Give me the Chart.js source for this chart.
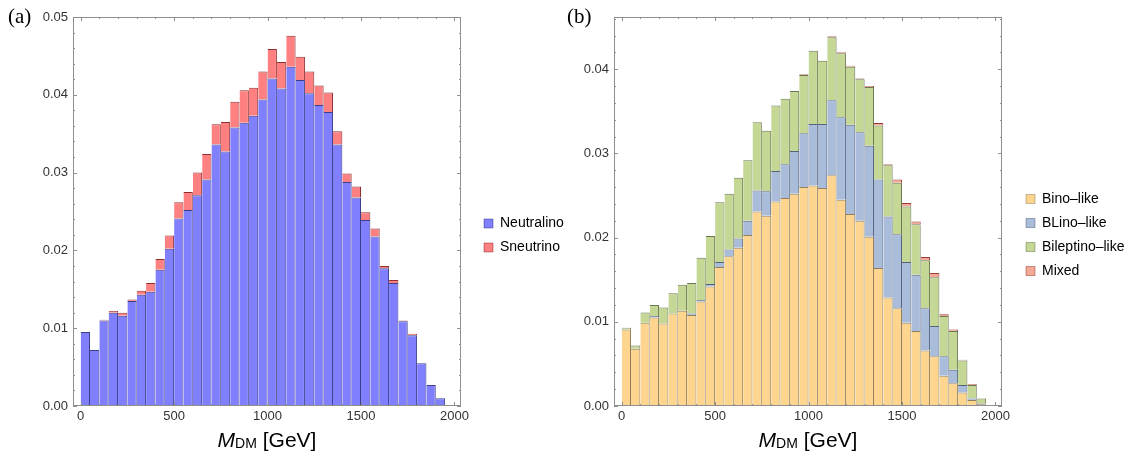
<!DOCTYPE html>
<html>
<head>
<meta charset="utf-8">
<script src="https://cdn.jsdelivr.net/npm/chart.js@4.4.0/dist/chart.umd.min.js"></script>
<style>
  body { margin: 0; background: #fff; }
  #wrap { position: relative; width: 1138px; height: 457px; overflow: hidden; }
  canvas { position: absolute; top: 0; }
  #ca { left: 0; }
  #cb { left: 540px; }
  .tag { position: absolute; top: 4px; font: 21px 'Liberation Serif', serif; color: #000; }
  .xt { position: absolute; top: 429px; width: 200px; text-align: center; color: #000;
        font: 21px 'Liberation Sans', Arial, sans-serif; line-height: 21px; white-space: nowrap; }
  .xt span { font-size: 14px; position: relative; top: 1px; }
</style>
</head>
<body>
<div id="wrap">
  <canvas id="ca" width="580" height="457"></canvas>
  <canvas id="cb" width="598" height="457"></canvas>
  <div class="tag" style="left:8px">(a)</div>
  <div class="tag" style="left:567px">(b)</div>
  <div class="xt" style="left:167px"><i>M</i><span>DM</span> [GeV]</div>
  <div class="xt" style="left:708px"><i>M</i><span>DM</span> [GeV]</div>
</div>
<script>
// bin centres, 50 GeV bins from 0 to 2000
const binCenters = [25, 75, 125, 175, 225, 275, 325, 375, 425, 475,
  525, 575, 625, 675, 725, 775, 825, 875, 925, 975,
  1025, 1075, 1125, 1175, 1225, 1275, 1325, 1375, 1425, 1475,
  1525, 1575, 1625, 1675, 1725, 1775, 1825, 1875, 1925, 1975];

const xTickValues = [0, 500, 1000, 1500, 2000];
const yTicksA = [0, 0.01, 0.02, 0.03, 0.04, 0.05];
const yTicksB = [0, 0.01, 0.02, 0.03, 0.04];

// panel (a)
const neutralino = [0.0095, 0.0072, 0.0110, 0.0120, 0.0116, 0.0135, 0.0143, 0.0147, 0.0175, 0.0202,
  0.0241, 0.0252, 0.0271, 0.0291, 0.0336, 0.0327, 0.0358, 0.0364, 0.0373, 0.0394,
  0.0421, 0.0408, 0.0436, 0.0419, 0.0402, 0.0387, 0.0378, 0.0336, 0.0288, 0.0268,
  0.0239, 0.0218, 0.0177, 0.0158, 0.0109, 0.0091, 0.0055, 0.0027, 0.0010];
const sneutrino = [0, 0, 0.0001, 0.0002, 0.0004, 0.0002, 0.0005, 0.0011, 0.0014, 0.0017,
  0.0021, 0.0023, 0.0029, 0.0033, 0.0026, 0.0038, 0.0033, 0.0042, 0.0036, 0.0036,
  0.0038, 0.0034, 0.0040, 0.0030, 0.0028, 0.0025, 0.0025, 0.0017, 0.0011, 0.0014,
  0.0010, 0.0010, 0.0003, 0.0004, 0.0001, 0.0002, 0, 0, 0];

// panel (b)
const binoLike = [0.0091, 0.0068, 0.0099, 0.0105, 0.0098, 0.0110, 0.0113, 0.0108, 0.0124, 0.0142,
  0.0165, 0.0178, 0.0188, 0.0203, 0.0231, 0.0226, 0.0243, 0.0247, 0.0252, 0.0260,
  0.0262, 0.0259, 0.0274, 0.0245, 0.0228, 0.0220, 0.0201, 0.0164, 0.0129, 0.0116,
  0.0099, 0.0089, 0.0066, 0.0059, 0.0036, 0.0027, 0.0016, 0.0007, 0.0002, 0.0001];
const blinoLike = [0, 0, 0, 0.0002, 0, 0, 0, 0.0002, 0.0002, 0.0003,
  0.0006, 0.0008, 0.0011, 0.0017, 0.0025, 0.0029, 0.0036, 0.0040, 0.0051, 0.0064,
  0.0073, 0.0076, 0.0089, 0.0098, 0.0106, 0.0105, 0.0108, 0.0105, 0.0096, 0.0088,
  0.0072, 0.0067, 0.0050, 0.0036, 0.0023, 0.0016, 0.0009, 0.0002, 0.0001, 0];
const bileptinoLike = [0.0002, 0.0004, 0.0012, 0.0013, 0.0019, 0.0024, 0.0031, 0.0036, 0.0050, 0.0057,
  0.0071, 0.0066, 0.0072, 0.0072, 0.0081, 0.0072, 0.0078, 0.0078, 0.0071, 0.0069,
  0.0087, 0.0075, 0.0075, 0.0076, 0.0069, 0.0063, 0.0070, 0.0064, 0.0061, 0.0061,
  0.0066, 0.0060, 0.0057, 0.0058, 0.0048, 0.0046, 0.0029, 0.0016, 0.0006, 0];
const mixed = [0, 0, 0, 0, 0, 0, 0, 0, 0, 0,
  0, 0, 0, 0, 0, 0, 0, 0, 0, 0.0001,
  0, 0, 0.0001, 0.0001, 0.0001, 0.0001, 0.0001, 0.0003, 0.0001, 0.0004,
  0.0004, 0.0003, 0.0004, 0.0005, 0.0002, 0.0002, 0.0001, 0.0001, 0, 0];

const fontTick = { family: "'Liberation Sans', Arial, sans-serif", size: 13 };
const fontLegend = { family: "'Liberation Sans', Arial, sans-serif", size: 14 };

// Mathematica-style frame with inward ticks on all four sides
const frameTicks = {
  id: 'frameTicks',
  afterDatasetsDraw(chart, args, opts) {
    const { ctx, chartArea: a, scales: { x, y } } = chart;
    ctx.save();
    ctx.strokeStyle = '#8f8f8f';
    ctx.lineWidth = 1;
    ctx.beginPath();
    for (let i = 0; i * opts.xMinor <= opts.xLast; i++) {
      const px = Math.round(x.getPixelForValue(i * opts.xMinor)) + 0.5;
      const len = i % opts.every === 0 ? 4 : 2;
      ctx.moveTo(px, a.bottom); ctx.lineTo(px, a.bottom - len);
      ctx.moveTo(px, a.top); ctx.lineTo(px, a.top + len);
    }
    for (let i = 0; i * opts.yMinor <= y.max + 1e-9; i++) {
      const py = Math.round(y.getPixelForValue(i * opts.yMinor)) + 0.5;
      const len = i % opts.every === 0 ? 4 : 2;
      ctx.moveTo(a.left, py); ctx.lineTo(a.left + len, py);
      ctx.moveTo(a.right, py); ctx.lineTo(a.right - len, py);
    }
    ctx.stroke();
    ctx.strokeRect(Math.round(a.left) + 0.5, Math.round(a.top) + 0.5,
      Math.round(a.width) - 1, Math.round(a.height) - 1);
    ctx.restore();
  }
};

function layer(label, values, fill, edge) {
  return {
    label,
    data: values.map((v, i) => ({ x: binCenters[i], y: v })),
    backgroundColor: fill,
    borderColor: edge,
    borderWidth: { top: 1, right: 1, bottom: 0, left: 0 },
    borderSkipped: false,
    inflateAmount: 0,
    categoryPercentage: 1,
    barPercentage: 1
  };
}

// width the legend box will take, so its left edge can be placed exactly
function legendWidth(labels) {
  const c = document.createElement('canvas').getContext('2d');
  c.font = "14px 'Liberation Sans', Arial, sans-serif";
  const w = Math.max(...labels.map(t => c.measureText(t).width));
  return 10 + 9 + 7 + w + 10;
}

function makeChart(id, datasets, yMax, yTicks, yWidth, gapWidth, legendLeft, padBottom) {
  const canvas = document.getElementById(id);
  const padRight = canvas.width - legendLeft - legendWidth(datasets.map(d => d.label));
  return new Chart(canvas, {
    type: 'bar',
    data: { datasets },
    plugins: [frameTicks],
    options: {
      responsive: false,
      animation: false,
      layout: { padding: { top: 17, left: 0, right: padRight, bottom: padBottom } },
      scales: {
        x: {
          type: 'linear', min: -41, max: 2035, stacked: true, offset: false,
          grid: { display: false, drawTicks: false },
          border: { display: false },
          ticks: { font: fontTick, color: '#333', padding: 3, autoSkip: false, maxRotation: 0, callback: v => v },
          afterBuildTicks: s => { s.ticks = xTickValues.map(v => ({ value: v })); },
          afterFit: s => { s.height = 51 - padBottom; }
        },
        y: {
          min: 0, max: yMax, stacked: true,
          grid: { display: false, drawTicks: false },
          border: { display: false },
          ticks: { font: fontTick, color: '#333', padding: 5, callback: v => v.toFixed(2) },
          afterBuildTicks: s => { s.ticks = yTicks.map(v => ({ value: v })); },
          afterFit: s => { s.width = yWidth; }
        },
        gap: {
          type: 'linear', position: 'right', display: true,
          grid: { display: false, drawTicks: false },
          border: { display: false },
          ticks: { display: false },
          afterFit: s => { s.width = gapWidth; }
        }
      },
      plugins: {
        legend: {
          position: 'right',
          maxWidth: 300,
          labels: { font: fontLegend, color: '#000', boxWidth: 9, boxHeight: 9, padding: 10 }
        },
        tooltip: { enabled: false },
        frameTicks: { xMinor: 100, xLast: 2000, yMinor: 0.002, every: 5 }
      }
    }
  });
}

makeChart('ca', [
  layer('Neutralino', neutralino, 'rgb(128,128,255)', 'rgba(40,40,125,0.9)'),
  layer('Sneutrino', sneutrino, 'rgb(255,128,128)', 'rgba(130,25,25,0.9)')
], 0.05, yTicksA, 73, 13, 474, 3);

makeChart('cb', [
  layer('Bino\u2013like', binoLike, 'rgb(254,213,143)', 'rgba(115,95,55,0.8)'),
  layer('BLino\u2013like', blinoLike, 'rgb(169,189,219)', 'rgba(55,70,100,0.85)'),
  layer('Bileptino\u2013like', bileptinoLike, 'rgb(196,215,148)', 'rgba(80,95,50,0.85)'),
  layer('Mixed', mixed, 'rgb(244,168,150)', 'rgba(140,40,30,0.9)')
], 0.0462, yTicksB, 74, 14, 476, 4);
</script>
</body>
</html>
